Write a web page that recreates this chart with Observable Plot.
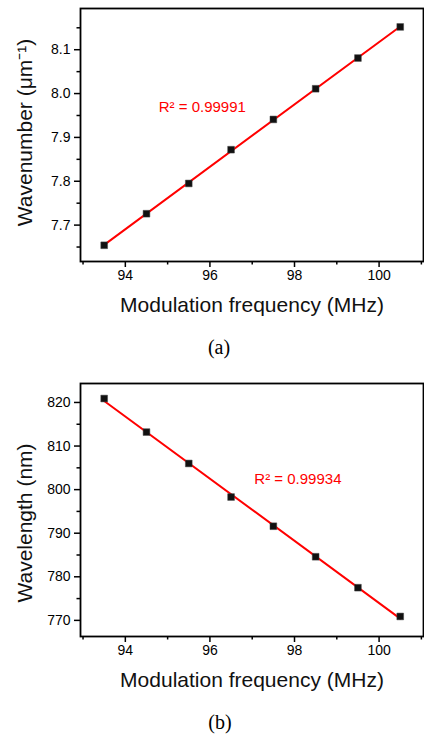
<!DOCTYPE html>
<html><head><meta charset="utf-8">
<script src="https://cdn.jsdelivr.net/npm/d3@7"></script>
<script src="https://cdn.jsdelivr.net/npm/@observablehq/plot@0.6"></script>
<style>
body{margin:0;background:#fff;}
#wrap{position:relative;width:424px;height:734px;overflow:hidden;}
.chart{position:absolute;left:0;}
.cap{position:absolute;font-family:"Liberation Serif","Times New Roman",serif;font-size:20px;transform:translate(-50%,-50%);color:#000;}
</style></head><body><div id="wrap"></div>
<script>
// Data
const freq = [93.5, 94.5, 95.5, 96.5, 97.5, 98.5, 99.5, 100.5];
const wavenumber = [7.654, 7.726, 7.795, 7.872, 7.941, 8.011, 8.081, 8.152];
const wavelength = [820.9, 813.2, 806.0, 798.3, 791.6, 784.6, 777.5, 770.9];
const xMajor = [94, 96, 98, 100];
const xMinor = [93, 95, 97, 99, 101];
const yMajorA = [7.7, 7.8, 7.9, 8.0, 8.1];
const yMinorA = [7.65, 7.75, 7.85, 7.95, 8.05, 8.15];
const yMajorB = [770, 780, 790, 800, 810, 820];
const yMinorB = [775, 785, 795, 805, 815];
const r2A = "R\u00B2 = 0.99991";
const r2B = "R\u00B2 = 0.99934";
const xLabel = "Modulation frequency (MHz)";
const yLabelA = "Wavenumber (\u03BCm\u207B\u00B9)";
const yLabelB = "Wavelength (nm)";

const FONT = '"Liberation Sans", Arial, Helvetica, sans-serif';
const xDomain = [92.94, 101.05];

function makeChart(o) {
  const data = freq.map((f, i) => ({f, v: o.values[i]}));
  return Plot.plot({
    width: 424, height: o.height,
    marginLeft: 80, marginRight: 1, marginTop: o.marginTop, marginBottom: o.marginBottom,
    style: {fontFamily: FONT, background: "white", overflow: "visible", color: "black"},
    x: {domain: xDomain},
    y: {domain: o.yDomain},
    marks: [
      Plot.axisX({ticks: xMajor, tickSize: 6, tickPadding: 3, tickFormat: d => String(d), fontSize: 14, strokeWidth: 1.5, label: null}),
      Plot.axisX({ticks: xMinor, tickSize: 3.5, tickFormat: () => "", strokeWidth: 1.5, label: null}),
      Plot.axisY({ticks: o.yMajor, tickSize: 6, tickPadding: 4, tickFormat: o.yFormat, fontSize: 14, strokeWidth: 1.5, label: null}),
      Plot.axisY({ticks: o.yMinor, tickSize: 3.5, tickFormat: () => "", strokeWidth: 1.5, label: null}),
      Plot.frame({stroke: "black", strokeWidth: 1.8}),
      Plot.linearRegressionY(data, {x: "f", y: "v", stroke: "#ff0000", strokeWidth: 2, ci: 0}),
      Plot.dot(data, {x: "f", y: "v", symbol: "square", r: 3.8, fill: "#111", stroke: "#444", strokeWidth: 0.5}),
      Plot.text([o.r2], {x: o.r2x, y: o.r2y, text: d => d, fill: "#ff0000", fontSize: 15, textAnchor: "start"}),
      Plot.text([xLabel], {frameAnchor: "bottom", dy: 44, text: d => d, fontSize: 21, textAnchor: "middle", lineAnchor: "middle", fill: "#111"}),
      Plot.text([o.yLabel], {frameAnchor: "left", rotate: -90, dx: -55, dy: o.yLabelDy, text: d => d, fontSize: 21, textAnchor: "middle", lineAnchor: "middle", fill: "#111"})
    ]
  });
}

const wrap = document.getElementById("wrap");

const a = makeChart({
  values: wavenumber, yDomain: [7.617, 8.194], yMajor: yMajorA, yMinor: yMinorA,
  yFormat: d3.format(".1f"), yLabel: yLabelA, yLabelDy: -2.5,
  r2: r2A, r2x: 94.79, r2y: 7.969, marginTop: 8, marginBottom: 59, height: 320
});
a.classList.add("chart"); a.style.top = "0px";
wrap.appendChild(a);

const b = makeChart({
  values: wavelength, yDomain: [766.3, 824.35], yMajor: yMajorB, yMinor: yMinorB,
  yFormat: d3.format("d"), yLabel: yLabelB, yLabelDy: 13,
  r2: r2B, r2x: 97.05, r2y: 802.3, marginTop: 13, marginBottom: 59, height: 325
});
b.classList.add("chart"); b.style.top = "370px";
wrap.appendChild(b);

const capA = document.createElement("div");
capA.className = "cap"; capA.textContent = "(a)";
capA.style.left = "219px"; capA.style.top = "347px";
wrap.appendChild(capA);

const capB = document.createElement("div");
capB.className = "cap"; capB.textContent = "(b)";
capB.style.left = "220px"; capB.style.top = "722px";
wrap.appendChild(capB);
</script>
</body></html>
